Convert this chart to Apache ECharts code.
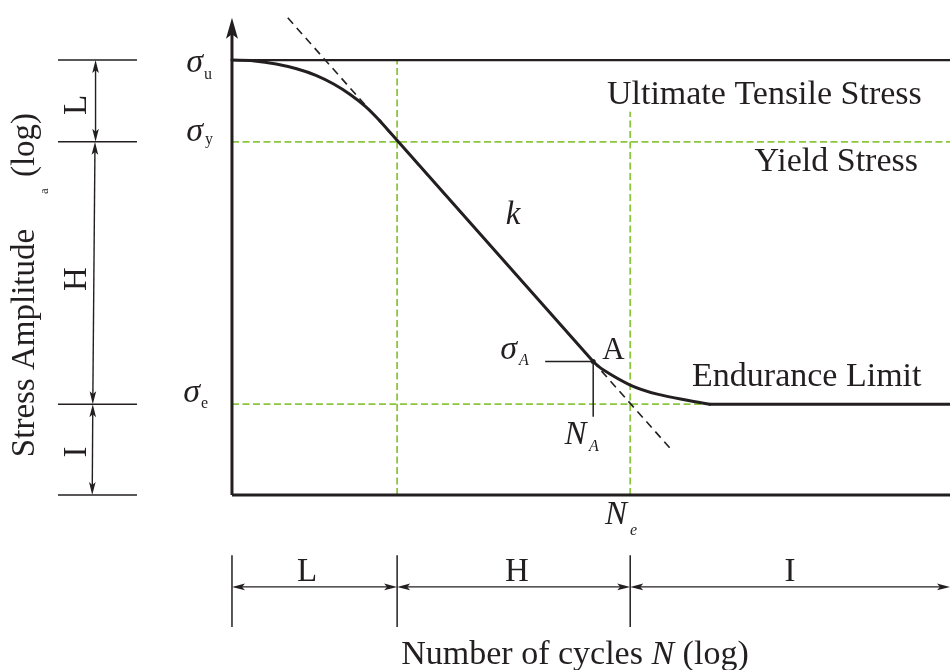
<!DOCTYPE html>
<html>
<head>
<meta charset="utf-8">
<script src="https://cdn.jsdelivr.net/npm/echarts@6/dist/echarts.min.js"></script>
<style>
  html, body { margin: 0; padding: 0; background: #fff; }
  #chart { width: 950px; height: 670px; }
</style>
</head>
<body>
<div id="chart"></div>
<script>
// S-N (Wöhler) curve schematic: stress amplitude vs. number of cycles, both on log scales.
const INK = '#231f20';
const GREEN = '#8cc63f';
const SERIF = "'Liberation Serif', 'Times New Roman', serif";

// Characteristic stress levels (log units)
const SIGMA_U = 10.0;   // ultimate tensile stress
const SIGMA_Y = 8.12;   // yield stress
const SIGMA_E = 2.09;   // endurance limit
const SIGMA_TOP = 10.97; // tip of the stress axis

// Characteristic cycle counts (log units)
const N_Y = 2.99;       // end of the low-cycle region L
const N_E = 7.21;       // knee N_e, start of the infinite-life region I
const N_MAX = 13.0;     // right end of the cycle axis
const N_E_GUIDE_TOP = 8.81;

// Point A on the finite-life slope
const A_N = 6.54;
const A_SIGMA = 3.07;
const A_GUIDE_LEFT = 5.67;
const A_GUIDE_BOTTOM = 1.80;

// Curve: low-cycle region (rounded start from sigma_u)
const lowCycleN = [0.00, 0.41, 0.80, 1.17, 1.52, 1.84, 2.14, 2.42, 2.68];
const lowCycleS = [10.00, 9.98, 9.91, 9.80, 9.65, 9.45, 9.21, 8.93, 8.60];
// Curve: finite-life straight slope k
const slopeN = [2.68, A_N];
const slopeS = [8.60, A_SIGMA];
// Curve: knee towards the endurance limit
const kneeN = [A_N, 6.72, 7.21, 7.70, 8.29, 8.65];
const kneeS = [A_SIGMA, 2.88, 2.53, 2.32, 2.17, SIGMA_E];
// Curve: endurance plateau
const plateauN = [8.65, N_MAX];
const plateauS = [SIGMA_E, SIGMA_E];
// Extension of the slope k (dashed)
const tangentN = [1.01, 7.93];
const tangentS = [10.97, 1.08];

// Dimension bars for the regions
const leftTickLevels = [SIGMA_U, SIGMA_Y, SIGMA_E, 0];
const leftTickSpan = [-3.15, -1.72];
const bottomTickCycles = [0, N_Y, N_E];
const bottomTickSpan = [-1.38, -3.03];
const BOTTOM_DIM_Y = -2.11;
const leftArrows = [
  [-2.47, SIGMA_U, -2.47, SIGMA_Y, 1, 1],
  [-2.48, SIGMA_Y, -2.52, SIGMA_E, 1, 1],
  [-2.52, SIGMA_E, -2.53, 0, 1, 1]
];
const bottomArrows = [
  [0, BOTTOM_DIM_Y, N_Y, BOTTOM_DIM_Y, 1, 1],
  [N_Y, BOTTOM_DIM_Y, N_E, BOTTOM_DIM_Y, 1, 1],
  [N_E, BOTTOM_DIM_Y, N_MAX, BOTTOM_DIM_Y, 1, 1]
];
const axisArrow = [[0, 0, 0, SIGMA_TOP, 0, 1]];

// Text annotations anchored in chart units
const annotations = [
  { text: 'Ultimate Tensile Stress', at: [12.49, 9.20], align: 'right', size: 34 },
  { text: 'Yield Stress', at: [12.42, 7.66], align: 'right', size: 34 },
  { text: 'Endurance Limit', at: [8.33, 2.71], align: 'left', size: 34 },
  { text: 'k', at: [5.09, 6.44], size: 33, italic: true },
  { text: 'σ', at: [-0.525, 9.94], align: 'right', size: 34, italic: true },
  { text: 'u', at: [-0.507, 9.67], align: 'left', size: 16 },
  { text: 'σ', at: [-0.525, 8.355], align: 'right', size: 34, italic: true },
  { text: 'y', at: [-0.489, 8.16], align: 'left', size: 16 },
  { text: 'σ', at: [-0.579, 2.356], align: 'right', size: 34, italic: true },
  { text: 'e', at: [-0.561, 2.108], align: 'left', size: 16 },
  { text: 'σ', at: [5.16, 3.344], align: 'right', size: 34, italic: true },
  { text: 'A', at: [5.196, 3.08], align: 'left', size: 16, italic: true },
  { text: 'A', at: [6.907, 3.324], size: 31 },
  { text: 'N', at: [6.219, 1.381], size: 33, italic: true },
  { text: 'A', at: [6.464, 1.106], align: 'left', size: 16, italic: true },
  { text: 'N', at: [6.952, -0.457], size: 33, italic: true },
  { text: 'e', at: [7.206, -0.811], align: 'left', size: 16, italic: true },
  { text: 'L', at: [1.358, -1.768], size: 33 },
  { text: 'H', at: [5.16, -1.768], size: 33 },
  { text: 'I', at: [10.103, -1.768], size: 33 },
  { text: 'L', at: [-2.797, 8.967], size: 33, rotate: 90 },
  { text: 'H', at: [-2.797, 4.967], size: 33, rotate: 90 },
  { text: 'I', at: [-2.797, 0.991], size: 33, rotate: 90 },
  { text: 'Stress Amplitude', at: [-3.748, 3.496], size: 33, rotate: 90 },
  { text: 'a', at: [-3.386, 6.99], size: 13, rotate: 90 },
  { text: '(log)', at: [-3.748, 8.047], size: 33, rotate: 90 },
  {
    text: '{t|Number of cycles }{i|N}{t| (log)}', at: [6.21, -3.675], size: 34,
    rich: {
      t: { fontFamily: SERIF, fontSize: 34, color: INK },
      i: { fontFamily: SERIF, fontSize: 34, color: INK, fontStyle: 'italic' }
    }
  }
];

function pairs(xs, ys) {
  return xs.map((x, i) => [x, ys[i]]);
}

function lineSeries(data, lineStyle, extra) {
  return Object.assign({
    type: 'line',
    data: data,
    symbol: 'none',
    silent: true,
    animation: false,
    z: 3,
    lineStyle: Object.assign({ color: INK, width: 1.5, opacity: 1 }, lineStyle)
  }, extra || {});
}

function arrowSeries(data, headLen, headHalf, width) {
  return {
    type: 'custom',
    data: data,
    silent: true,
    animation: false,
    z: 4,
    encode: { x: [0, 2], y: [1, 3] },
    renderItem: function (params, api) {
      const a = api.coord([api.value(0), api.value(1)]);
      const b = api.coord([api.value(2), api.value(3)]);
      const dx = b[0] - a[0], dy = b[1] - a[1];
      const len = Math.sqrt(dx * dx + dy * dy);
      const ux = dx / len, uy = dy / len;
      const nx = -uy, ny = ux;
      const hasStart = api.value(4) === 1;
      const hasEnd = api.value(5) === 1;
      const back = headLen * 0.7;
      const s = hasStart ? [a[0] + ux * back, a[1] + uy * back] : a;
      const e = hasEnd ? [b[0] - ux * back, b[1] - uy * back] : b;
      const children = [{
        type: 'line',
        shape: { x1: s[0], y1: s[1], x2: e[0], y2: e[1] },
        style: { stroke: INK, lineWidth: width }
      }];
      function head(tip, bx, by) {
        const baseX = tip[0] + bx * headLen, baseY = tip[1] + by * headLen;
        const notch = [tip[0] + bx * headLen * 0.78, tip[1] + by * headLen * 0.78];
        return {
          type: 'polygon',
          shape: {
            points: [tip, [baseX + nx * headHalf, baseY + ny * headHalf], notch,
                     [baseX - nx * headHalf, baseY - ny * headHalf]]
          },
          style: { fill: INK }
        };
      }
      if (hasStart) children.push(head(a, ux, uy));
      if (hasEnd) children.push(head(b, -ux, -uy));
      return { type: 'group', children: children };
    }
  };
}

const greenDash = { color: GREEN, width: 1.8, type: [7, 3.5] };

const series = [
  // Green reference lines
  lineSeries([[0, SIGMA_Y], [N_MAX, SIGMA_Y]], greenDash, { z: 1 }),
  lineSeries([[0, SIGMA_E], [N_MAX, SIGMA_E]], greenDash, { z: 1 }),
  lineSeries([[N_Y, 0], [N_Y, SIGMA_U]], greenDash, { z: 1 }),
  lineSeries([[N_E, 0], [N_E, N_E_GUIDE_TOP]], greenDash, { z: 1 }),
  // Ultimate tensile stress level
  lineSeries([[0, SIGMA_U], [N_MAX, SIGMA_U]], { width: 2.2 }),
  // Cycle axis
  lineSeries([[0, 0], [N_MAX, 0]], { width: 3 }),
  // Dashed extension of slope k
  lineSeries(pairs(tangentN, tangentS), { width: 1.6, type: [8, 5.5] }),
  // S-N curve
  lineSeries(pairs(lowCycleN, lowCycleS), { width: 3, cap: 'round' }, { smooth: 0.3 }),
  lineSeries(pairs(slopeN, slopeS), { width: 3, cap: 'round' }),
  lineSeries(pairs(kneeN, kneeS), { width: 3, cap: 'round' }, { smooth: 0.35 }),
  lineSeries(pairs(plateauN, plateauS), { width: 3, cap: 'round' }),
  // Guides to point A
  lineSeries([[A_GUIDE_LEFT, A_SIGMA], [A_N, A_SIGMA]], { width: 1.5 }),
  lineSeries([[A_N, A_SIGMA], [A_N, A_GUIDE_BOTTOM]], { width: 1.5 }),
  {
    type: 'scatter', data: [[A_N, A_SIGMA]], symbol: 'circle', symbolSize: 5,
    itemStyle: { color: INK, opacity: 1 }, silent: true, animation: false, z: 4
  }
];

// Region tick marks
leftTickLevels.forEach(function (lvl) {
  series.push(lineSeries([[leftTickSpan[0], lvl], [leftTickSpan[1], lvl]], { width: 1.5 }));
});
bottomTickCycles.forEach(function (n) {
  series.push(lineSeries([[n, bottomTickSpan[0]], [n, bottomTickSpan[1]]], { width: 1.5 }));
});

// Arrows
series.push(arrowSeries(axisArrow, 21, 6, 3));
series.push(arrowSeries(leftArrows, 13, 3.3, 1.4));
series.push(arrowSeries(bottomArrows, 13, 3.3, 1.4));

// Text
series.push({
  type: 'scatter',
  symbolSize: 0,
  silent: true,
  animation: false,
  z: 6,
  itemStyle: { color: INK, opacity: 1 },
  data: annotations.map(function (t) {
    return {
      value: t.at,
      label: {
        show: true,
        position: [0, 0],
        formatter: t.text,
        align: t.align || 'center',
        verticalAlign: 'middle',
        rotate: t.rotate || 0,
        fontFamily: SERIF,
        fontSize: t.size,
        fontStyle: t.italic ? 'italic' : 'normal',
        color: INK,
        opacity: 1,
        textBorderWidth: 0,
        rich: t.rich
      }
    };
  })
});

const chart = echarts.init(document.getElementById('chart'), null, { renderer: 'canvas' });
chart.setOption({
  backgroundColor: '#ffffff',
  animation: false,
  grid: { left: 0, right: 0, top: 0, bottom: 0, containLabel: false, outerBoundsMode: 'none' },
  xAxis: { type: 'value', min: -4.2, max: 13, show: false },
  yAxis: { type: 'value', min: -4.02, max: 11.38, show: false },
  series: series
});
</script>
</body>
</html>
